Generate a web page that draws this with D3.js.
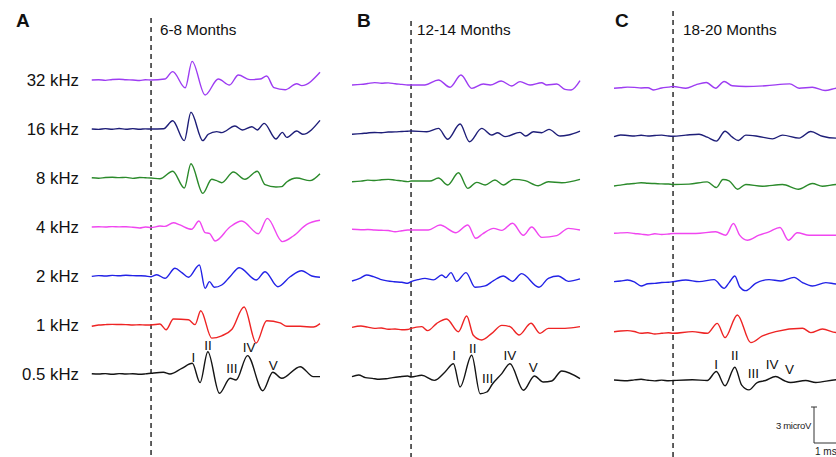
<!DOCTYPE html>
<html><head><meta charset="utf-8">
<script src="https://cdn.jsdelivr.net/npm/d3@7"></script>
<style>body{margin:0;background:#fff} svg{display:block;font-family:Arial,"Liberation Sans",Helvetica,sans-serif}</style>
</head><body><svg id="c" width="836" height="457"></svg>
<script>
// ---------- data ----------
const panelLetters = ["A","B","C"];
const ageGroups = ["6-8 Months","12-14 Months","18-20 Months"];
const frequencies = ["32 kHz","16 kHz","8 kHz","4 kHz","2 kHz","1 kHz","0.5 kHz"];
const peakNames = ["I","II","III","IV","V"];
const timeDomainMs = [-2.59, 7.41];

// [time ms, amplitude microV]
const a32 = [[-2.6,0],[-2.3,0.02],[-2.0,-0.03],[-1.7,0.04],[-1.4,0.06],[-1.1,0.02],[-0.8,0],[-0.5,-0.04],[-0.25,0.02],
 [0,0],[0.6,0.08],[0.95,0.7],[1.5,-0.65],[1.8,1.55],[2.37,-1.25],[2.95,0.08],[3.44,-0.42],[3.83,0.42],[4.34,0.03],[4.78,0.08],[5.07,0.33],[5.39,-0.64],[5.88,-0.81],[6.39,-0.31],[6.61,-0.47],[7.41,0.64]];
const a16 = [[-2.6,0],[-2.3,-0.03],[-2.0,0.03],[-1.7,-0.02],[-1.4,0.04],[-1.1,-0.02],[-0.8,0.03],[-0.5,-0.02],[-0.25,0.01],
 [0,0],[0.55,0.02],[0.95,0.69],[1.46,-0.97],[1.75,1.39],[2.27,-0.97],[2.51,-0.44],[2.88,-0.22],[3.1,-0.3],[3.68,0.25],[4.0,-0.08],[4.42,0.19],[4.66,-0.08],[4.96,0.47],[5.48,-0.83],[5.76,-0.28],[5.95,-0.7],[6.39,-0.17],[6.65,-0.44],[7.41,0.72]];
const a8 = [[-2.6,0.02],[-2.3,-0.02],[-2.0,0.04],[-1.7,0.06],[-1.4,0.03],[-1.1,0.05],[-0.8,-0.03],[-0.5,0.04],[-0.25,0.02],
 [0,0],[0.39,-0.06],[0.95,0.56],[1.46,-0.83],[1.75,1.19],[2.27,-1.28],[2.66,-0.11],[2.85,-0.2],[3.1,-0.39],[3.61,0.5],[4.12,-0.11],[4.66,0.56],[5.0,-0.56],[5.48,-0.75],[5.73,-0.72],[5.95,-0.33],[6.39,0],[6.97,-0.22],[7.41,0.36]];
const a4 = [[-2.6,0],[-2.3,0.02],[-2.0,0],[-1.7,0.03],[-1.4,0.01],[-1.1,0.02],[-0.8,-0.02],[-0.5,-0.08],[-0.25,0],
 [0,-0.05],[0.39,0.08],[0.6,0.05],[0.98,0.36],[1.27,0.17],[1.78,-0.19],[2.1,0.5],[2.37,-0.47],[2.56,-0.53],[2.81,-1.17],[3.46,0],[3.98,0.5],[4.71,-0.56],[5.1,0.72],[5.76,-1.22],[6.24,-0.75],[6.83,0.22],[7.41,0.56]];
const a2 = [[-2.6,-0.03],[-2.3,0.03],[-2.0,0],[-1.7,0.05],[-1.4,0.02],[-1.1,0.06],[-0.8,0.03],[-0.5,0.02],[-0.25,0],
 [0,-0.06],[0.25,0.11],[0.61,-0.19],[1.05,0.64],[1.35,0.28],[1.64,-0.11],[2.12,0.92],[2.37,-1.03],[2.56,-0.47],[2.77,-0.94],[3.1,-0.75],[3.46,-0.06],[3.87,0.69],[4.61,-0.33],[5.0,0.36],[5.56,-0.89],[6.1,-0.06],[6.61,0.44],[7.05,0],[7.41,-0.11]];
const a1 = [[-2.6,-0.1],[-2.3,0],[-2.0,0.03],[-1.7,0.05],[-1.4,0.04],[-1.1,0.03],[-0.8,0],[-0.5,0.02],[-0.25,0],
 [0,0],[0.39,0.08],[0.66,-0.39],[0.98,0.5],[1.64,0.44],[1.93,0.03],[2.18,1.19],[2.66,-1.09],[3.1,-0.9],[3.55,-0.35],[4.08,1.5],[4.61,-1.5],[5.07,0.36],[5.66,0.17],[5.95,-0.11],[6.54,-0.11],[7.12,-0.17],[7.41,0.11]];
const a05 = [[-2.6,0.02],[-2.3,0],[-2.0,0.03],[-1.7,-0.02],[-1.4,0.03],[-1.1,0],[-0.8,0.02],[-0.5,-0.02],[-0.25,0.01],
 [0,0.06],[0.54,0.14],[0.83,0],[1.35,0.47],[1.81,0.89],[2.15,-0.72],[2.49,1.86],[3.0,-1.61],[3.47,-0.36],[3.73,-0.5],[4.23,1.53],[4.9,-1.39],[5.34,0.14],[5.73,-0.36],[6.54,0.61],[7.12,-0.22],[7.41,-0.22]];

const b32 = [[-2.59,0],[-2.2,0.05],[-1.9,0.12],[-1.6,0.2],[-1.3,0.15],[-1.0,0.18],[-0.7,0.1],[-0.4,0.05],[-0.15,0],
 [0,0],[0.61,0],[1.2,0.42],[1.71,-0.19],[2.19,0.83],[2.66,-0.28],[3.17,0.08],[3.47,0],[3.95,0.33],[4.42,-0.08],[4.78,0.28],[5.22,0],[5.73,0.19],[5.95,0],[6.39,0.08],[6.75,-0.36],[7.02,-0.42],[7.41,0.36]];
const b16 = [[-2.59,-0.05],[-2.2,0],[-1.9,0.06],[-1.6,0.1],[-1.3,0.08],[-1.0,0.14],[-0.7,0.15],[-0.4,0.18],[-0.15,0.2],
 [0,0.22],[0.69,0.16],[1.2,0.44],[1.61,-0.47],[2.15,0.8],[2.56,-0.67],[3.1,0.44],[3.54,-0.11],[3.8,0.08],[4.12,-0.25],[4.78,0.11],[5.03,-0.2],[5.37,0.16],[5.73,0.08],[6.05,0.36],[6.54,-0.2],[6.9,-0.11],[7.41,0.22]];
const b8 = [[-2.59,0.05],[-2.2,0.1],[-1.9,0.18],[-1.6,0.15],[-1.3,0.22],[-1.0,0.25],[-0.7,0.18],[-0.4,0.12],[-0.15,0.06],
 [0,0.11],[0.83,0.11],[1.2,0.36],[1.61,-0.22],[2.08,0.8],[2.49,-0.5],[2.88,0],[3.25,-0.22],[3.68,0.19],[4.05,-0.22],[4.49,0.25],[5.0,0.14],[5.58,-0.28],[6.02,0.05],[6.61,-0.03],[7.41,0.25]];
const b4 = [[-2.59,0.14],[-2.2,0.1],[-1.9,0.12],[-1.6,0.08],[-1.3,0.06],[-1.0,0.04],[-0.7,-0.06],[-0.4,0.02],[-0.15,0.08],
 [0,0.08],[0.76,0.08],[1.27,0.5],[1.97,-0.14],[2.49,0.5],[2.84,-0.61],[3.13,-0.25],[3.62,0.22],[3.98,0.05],[4.45,0.64],[4.93,-0.36],[5.29,0.33],[5.73,-0.53],[6.39,-0.39],[6.9,0.22],[7.41,0.08]];
const b2 = [[-2.59,-0.11],[-2.25,0.1],[-1.95,0.39],[-1.65,0.25],[-1.35,0.03],[-1.05,-0.1],[-0.75,-0.17],[-0.4,-0.22],[-0.15,-0.3],
 [0,-0.17],[0.3,0],[0.61,0.11],[0.98,-0.02],[1.35,0.39],[1.52,0.17],[1.75,0.59],[2.0,-0.14],[2.41,0.59],[2.81,-0.63],[3.25,-0.52],[3.62,-0.08],[4.05,0.31],[4.45,-0.14],[4.85,0.5],[5.61,-0.63],[6.02,0.11],[6.46,0.31],[6.9,-0.14],[7.41,0.06]];
const b1 = [[-2.59,0.08],[-2.2,0.19],[-1.9,0.1],[-1.6,0],[-1.3,0.03],[-1.0,-0.08],[-0.7,-0.05],[-0.4,-0.12],[-0.15,-0.1],
 [0,0],[0.47,0.14],[0.73,-0.19],[1.13,0.42],[1.56,0.78],[2.08,-0.28],[2.44,1.03],[2.73,-0.58],[3.1,-0.97],[3.54,-0.42],[3.98,0.25],[4.34,0.14],[4.74,-0.55],[5.26,0.42],[5.66,-0.42],[6.02,0],[6.75,0],[7.41,0.14]];
const b05 = [[-2.59,0.03],[-2.3,0.17],[-2.0,-0.05],[-1.7,-0.11],[-1.4,-0.19],[-1.1,-0.15],[-0.8,-0.05],[-0.5,0.02],[-0.15,0.08],
 [0,0],[0.47,0.14],[1.02,-0.28],[1.49,0.42],[1.86,1.11],[2.15,-0.83],[2.66,1.81],[3.03,-1.39],[3.32,-1.25],[3.57,-0.58],[3.98,0.28],[4.34,1.11],[4.93,-1.11],[5.41,0.08],[5.8,-0.42],[6.17,-0.33],[6.61,0.5],[7.41,-0.14]];

const c32 = [[-2.59,-0.15],[-2.3,-0.1],[-2.0,-0.05],[-1.7,-0.07],[-1.4,-0.12],[-1.1,-0.1],[-0.85,-0.29],[-0.5,-0.12],[-0.2,-0.05],
 [0,0],[0.56,-0.14],[1.0,0.14],[1.46,0.33],[1.87,-0.14],[2.24,0.42],[2.6,0.06],[3.19,0],[4.06,0.06],[5.12,0.22],[5.53,-0.14],[6.11,-0.06],[6.67,-0.33],[7.17,-0.14],[7.41,-0.1]];
const c16 = [[-2.59,-0.1],[-2.3,0.04],[-2.0,0],[-1.7,-0.04],[-1.4,0.02],[-1.1,-0.04],[-0.8,0],[-0.5,0.03],[-0.2,-0.04],
 [0,-0.06],[0.56,0.03],[1.14,0.11],[1.5,-0.14],[1.9,-0.47],[2.28,0.36],[2.6,-0.14],[2.87,-0.42],[3.19,0.03],[3.7,-0.06],[4.36,-0.28],[4.8,0.03],[5.53,-0.22],[6.04,0.33],[6.55,-0.06],[7.17,-0.22],[7.41,-0.2]];
const c8 = [[-2.59,-0.12],[-2.3,-0.05],[-2.0,0.04],[-1.7,0.08],[-1.4,0.15],[-1.1,0.1],[-0.8,0.08],[-0.5,0.05],[-0.2,0.04],
 [0,0],[0.7,0.03],[1.5,0.22],[1.9,-0.25],[2.19,0.42],[2.46,0.31],[2.83,-0.39],[3.19,0],[3.92,-0.14],[4.8,0],[5.5,-0.39],[6.11,0.08],[6.55,-0.14],[7.17,0],[7.41,0]];
const c4 = [[-2.59,0.02],[-2.3,0.05],[-2.0,0.07],[-1.7,0],[-1.4,-0.05],[-1.1,-0.12],[-0.8,-0.02],[-0.5,-0.08],[-0.2,-0.04],
 [0,0],[1.0,0],[1.87,0.14],[2.31,-0.14],[2.65,0.83],[2.92,-0.14],[3.26,-0.56],[3.77,-0.14],[4.21,0.14],[4.69,0.5],[5.06,-0.56],[5.45,0.06],[5.97,-0.14],[6.55,-0.14],[7.17,-0.14],[7.41,-0.12]];
const c2 = [[-2.59,0.07],[-2.3,0.12],[-2.0,0.21],[-1.7,0.05],[-1.4,-0.29],[-1.1,-0.1],[-0.8,-0.07],[-0.5,0],[-0.2,0.02],
 [0,0.07],[0.56,0.21],[1.14,0.07],[1.8,0.24],[2.24,-0.49],[2.46,-0.01],[2.71,0.54],[2.92,-0.35],[3.19,-0.68],[3.62,-0.07],[4.21,0.24],[4.72,0.13],[5.31,0.43],[5.68,-0.01],[6.11,-0.29],[6.7,-0.01],[7.17,-0.12],[7.41,-0.1]];
const c1 = [[-2.59,-0.02],[-2.3,0.04],[-2.0,0.07],[-1.7,0],[-1.4,-0.15],[-1.1,-0.1],[-0.8,-0.21],[-0.5,-0.15],[-0.2,-0.1],
 [0,-0.15],[0.85,-0.01],[1.5,-0.15],[1.94,0.68],[2.28,-0.51],[2.82,1.38],[3.41,-0.93],[3.92,-0.37],[4.5,-0.01],[5.68,0.27],[6.04,-0.09],[6.55,0.21],[7.17,-0.09],[7.41,-0.05]];
const c05 = [[-2.59,0.04],[-2.3,0],[-2.0,-0.02],[-1.7,0.05],[-1.4,0.1],[-1.1,0.02],[-0.8,-0.03],[-0.5,0.03],[-0.2,-0.02],
 [0,0],[0.85,0.06],[1.5,0],[1.9,0.75],[2.28,-0.44],[2.71,1.11],[3.01,-0.39],[3.33,-0.78],[3.69,-0.17],[4.06,0],[4.5,0.33],[4.86,0],[5.16,-0.17],[5.82,0],[6.26,-0.17],[7.17,0.06],[7.41,0.04]];

// peak label anchors (ms, microV) on the 0.5 kHz trace
const peakTimesA = [1.86, 2.5, 3.54, 4.3, 5.36];
const peakLevelsA = [1.44, 2.42, 0.47, 2.27, 0.75];
const peakTimesB = [1.89, 2.71, 3.36, 4.34, 5.36];
const peakLevelsB = [1.83, 2.39, -0.11, 1.83, 0.86];
const peakTimesC = [1.89, 2.71, 3.52, 4.35, 5.11];
const peakLevelsC = [1.38, 2.13, 0.65, 1.35, 0.93];

const scaleBarMicroV = 3;
const scaleBarMs = 1;

// ---------- layout / style ----------
const traces = [[a32,a16,a8,a4,a2,a1,a05],[b32,b16,b8,b4,b2,b1,b05],[c32,c16,c8,c4,c2,c1,c05]];
const peakTimes = [peakTimesA, peakTimesB, peakTimesC];
const peakLevels = [peakLevelsA, peakLevelsB, peakLevelsC];
const panelX0 = [92, 352, 614];
const panelW = 228;
const rowRanges = [[80,374],[85,377],[86.5,380.5]];
const dashTop = [18, 21, 11];
const titleX = [160, 417, 683];
const letterX = [16, 357, 615];
const pxPerMicroV = 12;
const color = d3.scaleOrdinal(frequencies,
  ["#9d3cf2","#1e1e78","#2b8a2b","#f046f0","#2222e6","#ee2424","#141414"]);

const svg = d3.select("#c");
svg.append("rect").attr("width",836).attr("height",457).attr("fill","#fff");

panelLetters.forEach((L, p) => {
  const x = d3.scaleLinear(timeDomainMs, [panelX0[p], panelX0[p] + panelW]);
  const row = d3.scalePoint(frequencies, rowRanges[p]);
  const g = svg.append("g");

  // stimulus onset dashed line
  g.append("line").attr("x1", x(0)).attr("x2", x(0))
    .attr("y1", dashTop[p]).attr("y2", 457)
    .attr("stroke", "#444").attr("stroke-width", 1.7).attr("stroke-dasharray", "5,4");

  g.append("text").attr("x", letterX[p]).attr("y", 27)
    .attr("font-size", 19).attr("font-weight", "bold").attr("fill", "#111").text(L);
  g.append("text").attr("x", titleX[p]).attr("y", 34.5)
    .attr("font-size", 15.3).attr("fill", "#111").text(ageGroups[p]);

  frequencies.forEach((f, i) => {
    const y = d3.scaleLinear([0, 1], [row(f), row(f) - pxPerMicroV]);
    const line = d3.line().x(d => x(d[0])).y(d => y(d[1])).curve(d3.curveMonotoneX);
    g.append("path").datum(traces[p][i]).attr("d", line)
      .attr("fill", "none").attr("stroke", color(f)).attr("stroke-width", 1.4)
      .attr("stroke-linejoin", "round");
    if (p === 0) {
      g.append("text").attr("x", 79).attr("y", row(f)).attr("dy", "0.35em")
        .attr("text-anchor", "end").attr("font-size", 16.8).attr("fill", "#111").text(f);
    }
  });

  // wave labels on 0.5 kHz
  const f05 = frequencies[frequencies.length - 1];
  const y05 = d3.scaleLinear([0, 1], [row(f05), row(f05) - pxPerMicroV]);
  peakNames.forEach((n, k) => {
    g.append("text").attr("x", x(peakTimes[p][k])).attr("y", y05(peakLevels[p][k]))
      .attr("dy", "0.36em").attr("text-anchor", "middle").attr("font-size", 13.5)
      .attr("fill", "#111").text(n);
  });

  // scale bar in panel C
  if (p === 2) {
    const bx = 814, by = 443;
    const yb = d3.scaleLinear([0, 1], [by, by - pxPerMicroV]);
    const len = x(scaleBarMs) - x(0);
    const sb = g.append("g").attr("stroke", "#333").attr("stroke-width", 1);
    sb.append("line").attr("x1", bx).attr("x2", bx).attr("y1", yb(0)).attr("y2", yb(scaleBarMicroV));
    sb.append("line").attr("x1", bx - 3).attr("x2", bx + 3).attr("y1", yb(scaleBarMicroV)).attr("y2", yb(scaleBarMicroV));
    sb.append("line").attr("x1", bx).attr("x2", bx + len).attr("y1", by).attr("y2", by);
    g.append("text").attr("x", bx - 3).attr("y", yb(scaleBarMicroV / 2) + 4)
      .attr("text-anchor", "end").attr("font-size", 9.5).attr("letter-spacing", -0.3)
      .attr("fill", "#222").text(scaleBarMicroV + " microV");
    g.append("text").attr("x", bx + 1).attr("y", 455)
      .attr("font-size", 10).attr("fill", "#222").text(scaleBarMs + " ms");
  }
});
</script></body></html>
